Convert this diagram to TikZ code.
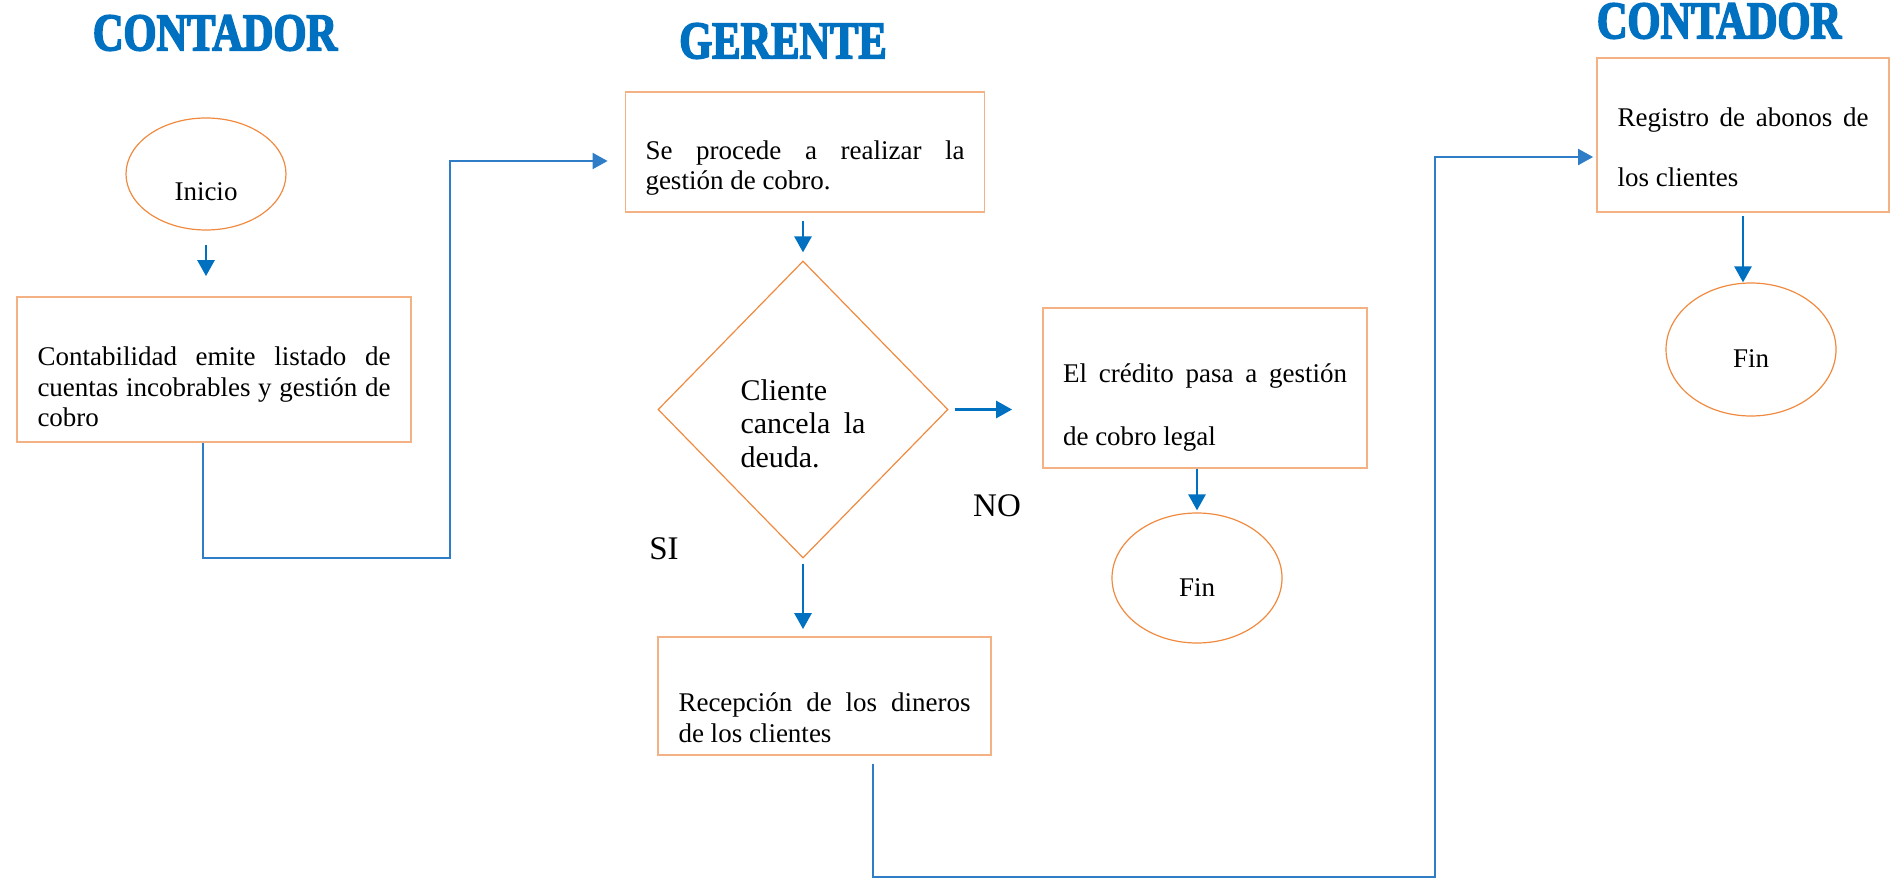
\documentclass[tikz,border=0pt]{standalone}
\usepackage{fontspec}
\setmainfont{Liberation Serif}
\newfontfamily\headfont[FakeStretch=0.8,FakeBold=3]{Liberation Serif}
\usetikzlibrary{arrows.meta,shapes.geometric}
\definecolor{flowblue}{HTML}{0070C0}
\definecolor{linkblue}{HTML}{2E7DC6}
\definecolor{boxorange}{HTML}{F4B183}
\definecolor{edgeorange}{HTML}{F08A40}

\begin{document}
\begin{tikzpicture}[x=0.5pt,y=-0.5pt,line join=miter,
  head/.style={inner sep=0pt,text=flowblue,font=\headfont\bfseries\fontsize{26.5}{28}\selectfont},
  stepbox/.style={draw=boxorange,line width=0.9pt,rectangle,inner xsep=10pt,inner ysep=0pt,
    align=justify,font=\fontsize{13.5}{15.25}\selectfont},
  term/.style={draw=edgeorange,line width=0.6pt,ellipse,inner sep=0pt,
    font=\fontsize{13.5}{15.25}\selectfont},
  ask/.style={draw=edgeorange,line width=0.6pt,diamond,inner sep=0pt,
    minimum width=145pt,minimum height=148.5pt,text width=62.5pt,align=justify,
    font=\fontsize{15}{16.75}\selectfont},
  tag/.style={inner sep=0pt,font=\fontsize{16.5}{18}\selectfont},
  go/.style={flowblue,line width=1.4pt,-{Triangle[length=8pt,width=8.5pt]}},
  link/.style={linkblue,line width=1pt,-{Triangle[length=7.5pt,width=8pt]}}]
  \useasboundingbox (0,0) rectangle (1899,881);

  % lane titles
  \node[head] (contA) at (215,33) {CONTADOR};
  \node[head] (ger) at (783,41) {GERENTE};
  \node[head] (contB) at (1719,21) {CONTADOR};

  % contador
  \node[term,minimum width=80pt,minimum height=56pt,text height=27pt] (inicio) at (206,174) {Inicio};
  \node[stepbox,minimum width=197pt,minimum height=72.5pt,text width=176.5pt,text height=26.7pt]
    (emite) at (214,369.5) {Contabilidad emite listado de\linebreak cuentas incobrables y gestión de\linebreak cobro};

  % gerente
  \node[stepbox,minimum width=179pt,minimum height=60pt,text width=159.5pt,text height=25.2pt]
    (cobro) at (805,152) {Se procede a realizar la\linebreak gestión de cobro.};
  \node[ask,text height=24.7pt] (cancela) at (803,409.5) {Cliente\\ cancela la\linebreak deuda.};
  \node[stepbox,minimum width=166.5pt,minimum height=59pt,text width=146pt,text height=31.2pt]
    (recibe) at (824.5,696) {Recepción de los dineros\linebreak de los clientes};
  \node[stepbox,minimum width=162pt,minimum height=80pt,text width=142pt,text height=28.7pt,
    font=\fontsize{13.5}{31.5}\selectfont]
    (legal) at (1205,388) {El crédito pasa a gestión\linebreak de cobro legal};
  \node[term,minimum width=85pt,minimum height=65pt,text height=18.5pt] (finA) at (1197,578) {Fin};
  \node[tag] (no) at (997,506) {NO};
  \node[tag] (si) at (664,549) {SI};

  % contador (cierre)
  \node[stepbox,minimum width=146pt,minimum height=77pt,text width=125.5pt,text height=21.2pt,
    font=\fontsize{13.5}{30}\selectfont]
    (abonos) at (1743,135) {Registro de abonos de\linebreak los clientes};
  \node[term,minimum width=85pt,minimum height=66.5pt,text height=18.5pt] (finB) at (1751,349.5) {Fin};

  % connectors
  \coordinate (bajoA) at (450,558);
  \coordinate (bajoB) at (1435,877);
  \draw[go,shorten <=7pt,shorten >=10pt] (inicio.south) -- (inicio.south |- emite.north);
  \draw[go,shorten <=4pt,shorten >=4pt] (cancela.north |- cobro.south) -- (cancela.north);
  \draw[go,shorten <=3pt,shorten >=15pt] (cancela.east) -- (cancela.east -| legal.west);
  \draw[go,shorten <=2.5pt,shorten >=3.5pt] (cancela.south) -- (cancela.south |- recibe.north);
  \draw[go,shorten >=1pt] (finA.north |- legal.south) -- (finA.north);
  \draw[go,shorten <=1.5pt] (abonos.south) -- (abonos.south |- finB.north);
  \draw[link,shorten >=8.5pt] ([xshift=-5.5pt]emite.south) |- (bajoA) |- ([yshift=-4.5pt]cobro.west);
  \draw[link,shorten <=4pt,shorten >=1.5pt] ([xshift=24.25pt]recibe.south) |- (bajoB)
    |- ([yshift=-11pt]abonos.west);
\end{tikzpicture}
\end{document}
